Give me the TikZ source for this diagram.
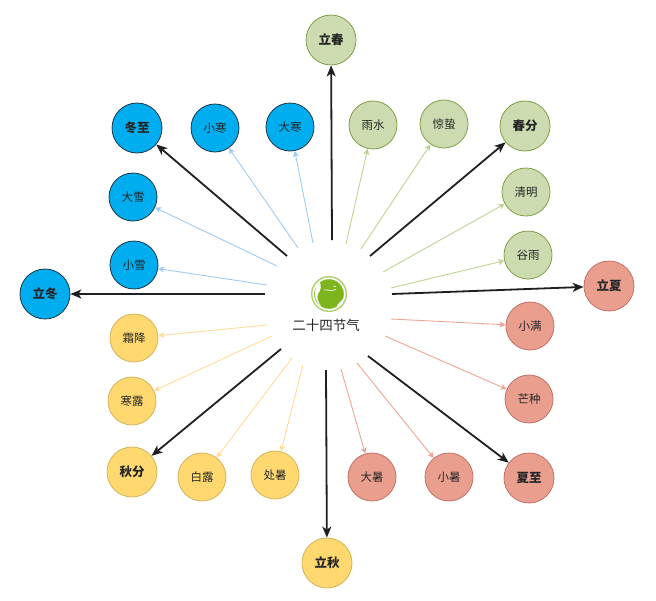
\documentclass[tikz,border=0pt]{standalone}
\usepackage{fontspec}
\newfontfamily\cjk{Noto Sans CJK SC}
\usetikzlibrary{arrows.meta}
\definecolor{wfill}{HTML}{00AEEF}
\definecolor{wline}{HTML}{1B3444}
\definecolor{warrow}{HTML}{9FCBF2}
\definecolor{sfill}{HTML}{CCDCB0}
\definecolor{sline}{HTML}{7F9F44}
\definecolor{sarrow}{HTML}{BCD592}
\definecolor{ufill}{HTML}{EA9E8E}
\definecolor{uline}{HTML}{C0716A}
\definecolor{uarrow}{HTML}{EDA596}
\definecolor{afill}{HTML}{FFD970}
\definecolor{aline}{HTML}{D2B35A}
\definecolor{aarrow}{HTML}{FFDC9A}
\definecolor{globe}{HTML}{7DB51E}
\definecolor{txt}{HTML}{262626}
\begin{document}
\begin{tikzpicture}[x=1pt,y=-1pt,
  term/.style={circle, draw, line width=0.8pt, minimum size=48pt, inner sep=0pt,
    text=txt, font=\cjk\fontsize{11.5}{12}\selectfont},
  major/.style={term, minimum size=50pt, font=\cjk\bfseries\fontsize{12.5}{13}\selectfont},
  winter/.style={fill=wfill, draw=wline},
  spring/.style={fill=sfill, draw=sline},
  summer/.style={fill=ufill, draw=uline},
  autumn/.style={fill=afill, draw=aline},
  thin/.style={line width=0.9pt, -{Stealth[length=6pt,width=6pt,inset=1.5pt]}},
  heavy/.style={line width=1.8pt, draw=black!88, -{Stealth[length=11pt,width=9pt,inset=3pt]}}
]
\useasboundingbox (0,0) rectangle (656,600);
% globe icon
\draw[globe!65, line width=1.4pt] (329,294) circle (17.3);
\begin{scope}
\clip (329,294) circle (14.8);
\fill[globe] (329,294) circle (14.8);
% Atlantic (narrow crescent on the left)
\fill[white] (319,281) .. controls (322,285) and (321,290) .. (318,294)
  .. controls (316,298) and (319,303) .. (322,308)
  .. controls (318,304) and (315,299) .. (315,294)
  .. controls (315,289) and (316,285) .. (319,281) -- cycle;
% Indian ocean (bottom right)
\fill[white] (336,309) .. controls (337,305) and (339,302) .. (342,300)
  .. controls (343,304) and (341,307) .. (338,309) -- cycle;
% Mediterranean and Black sea
\draw[white, line width=0.7pt] (324,290) .. controls (327,289.5) and (331,291.5) .. (336,289.5);
\draw[white, line width=0.6pt] (333,286) -- (336,286.5);
\end{scope}
\node[text=txt, font=\cjk\fontsize{13.5}{14}\selectfont] (title) at (326,325) {二十四节气};

% nodes
\node[major,spring] (lichun) at (331,40) {立春};
\node[term,spring] (yushui) at (373,125) {雨水};
\node[term,spring] (jingzhe) at (444,124) {惊蛰};
\node[major,spring] (chunfen) at (525,126) {春分};
\node[term,spring] (qingming) at (526,192) {清明};
\node[term,spring] (guyu) at (528,255) {谷雨};
\node[major,summer] (lixia) at (609,286) {立夏};
\node[term,summer] (xiaoman) at (530,326) {小满};
\node[term,summer] (mangzhong) at (529,399) {芒种};
\node[major,summer] (xiazhi) at (529,478) {夏至};
\node[term,summer] (xiaoshu) at (449,477) {小暑};
\node[term,summer] (dashu) at (372,477) {大暑};
\node[major,autumn] (liqiu) at (327,563) {立秋};
\node[term,autumn] (chushu) at (275,475) {处暑};
\node[term,autumn] (bailu) at (202,477) {白露};
\node[major,autumn] (qiufen) at (132,472) {秋分};
\node[term,autumn] (hanlu) at (132,401) {寒露};
\node[term,autumn] (shuangjiang) at (134,338) {霜降};
\node[major,winter] (lidong) at (45,294) {立冬};
\node[term,winter] (xiaoxue) at (134,265) {小雪};
\node[term,winter] (daxue) at (133,197) {大雪};
\node[major,winter] (dongzhi) at (137,128) {冬至};
\node[term,winter] (xiaohan) at (215,128) {小寒};
\node[term,winter] (dahan) at (290,127) {大寒};

% start points
\coordinate (s1) at (332,240);
\coordinate (s2) at (346,244);
\coordinate (s3) at (361,249);
\coordinate (s4) at (370,256);
\coordinate (s5) at (383,272);
\coordinate (s6) at (391,288);
\coordinate (s7) at (392,294);
\coordinate (s8) at (391,319);
\coordinate (s9) at (385,336);
\coordinate (s10) at (368,356);
\coordinate (s11) at (357,363);
\coordinate (s12) at (341,369);
\coordinate (s13) at (326,370);
\coordinate (s14) at (303,365);
\coordinate (s15) at (292,358);
\coordinate (s16) at (281,349);
\coordinate (s17) at (272,336);
\coordinate (s18) at (267,325);
\coordinate (s19) at (265,294);
\coordinate (s20) at (267,285);
\coordinate (s21) at (277,266);
\coordinate (s22) at (287,256);
\coordinate (s23) at (298,248);
\coordinate (s24) at (313,243);

% connectors
\draw[heavy] (s1) -- (lichun);
\draw[thin, draw=sarrow] (s2) -- (yushui);
\draw[thin, draw=sarrow] (s3) -- (jingzhe);
\draw[heavy] (s4) -- (chunfen);
\draw[thin, draw=sarrow] (s5) -- (qingming);
\draw[thin, draw=sarrow] (s6) -- (guyu);
\draw[heavy] (s7) -- (lixia);
\draw[thin, draw=uarrow] (s8) -- (xiaoman);
\draw[thin, draw=uarrow] (s9) -- (mangzhong);
\draw[heavy] (s10) -- (xiazhi);
\draw[thin, draw=uarrow] (s11) -- (xiaoshu);
\draw[thin, draw=uarrow] (s12) -- (dashu);
\draw[heavy] (s13) -- (liqiu);
\draw[thin, draw=aarrow] (s14) -- (chushu);
\draw[thin, draw=aarrow] (s15) -- (bailu);
\draw[heavy] (s16) -- (qiufen);
\draw[thin, draw=aarrow] (s17) -- (hanlu);
\draw[thin, draw=aarrow] (s18) -- (shuangjiang);
\draw[heavy] (s19) -- (lidong);
\draw[thin, draw=warrow] (s20) -- (xiaoxue);
\draw[thin, draw=warrow] (s21) -- (daxue);
\draw[heavy] (s22) -- (dongzhi);
\draw[thin, draw=warrow] (s23) -- (xiaohan);
\draw[thin, draw=warrow] (s24) -- (dahan);
\end{tikzpicture}
\end{document}
